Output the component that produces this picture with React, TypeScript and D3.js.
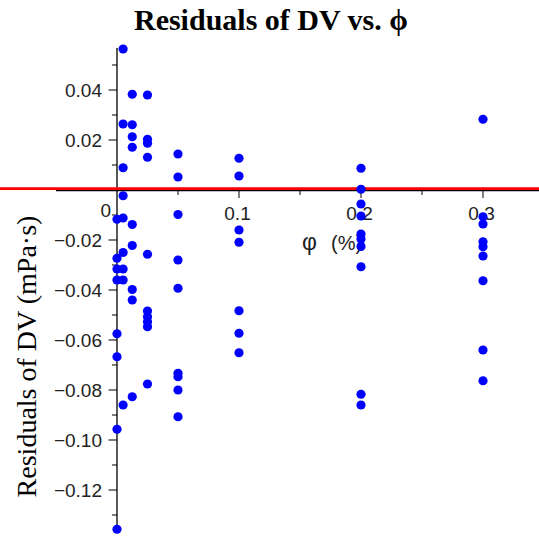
import React from "react";
import * as d3 from "d3";

// φ (%) groups and their residual values (mPa·s)
const phiGroups = [0, 0.005, 0.0125, 0.025, 0.05, 0.1, 0.2, 0.3];
const res000 = [-0.0117, -0.0273, -0.0316, -0.036, -0.0575, -0.0667, -0.0957, -0.1357];
const res005 = [0.0564, 0.0264, 0.0089, -0.0023, -0.0112, -0.025, -0.0316, -0.036, -0.086];
const res0125 = [0.0383, 0.0261, 0.0213, 0.0171, -0.0138, -0.0222, -0.0398, -0.044, -0.0827];
const res025 = [0.038, 0.0203, 0.0187, 0.0131, -0.0257, -0.0484, -0.0507, -0.0527, -0.0547, -0.0776];
const res05 = [0.0144, 0.0052, -0.0098, -0.028, -0.0393, -0.0733, -0.0747, -0.08, -0.0907];
const res10 = [0.0127, 0.0056, -0.016, -0.0209, -0.0483, -0.0573, -0.0651];
const res20 = [0.0087, 0.0003, -0.0056, -0.0104, -0.0176, -0.0196, -0.0226, -0.0307, -0.0817, -0.086];
const res30 = [0.0283, -0.0107, -0.0136, -0.0207, -0.0227, -0.0264, -0.0363, -0.064, -0.0763];
const residualGroups = [res000, res005, res0125, res025, res05, res10, res20, res30];

const xMajorTicks = [0.1, 0.2, 0.3];
const xMinorTicks = [0.05, 0.15, 0.25];
const yMajorTicks = [0.04, 0.02, -0.02, -0.04, -0.06, -0.08, -0.1, -0.12];
const yMinorTicks = [0.05, 0.03, 0.01, -0.01, -0.03, -0.05, -0.07, -0.09, -0.11, -0.13];

const titleText = "Residuals of DV vs. \u03d5";
const yLabelText = "Residuals of DV (mPa\u00b7s)";
const xLabelSymbol = "\u03c6";
const xLabelUnit = "(%)";

export default function App() {
  const W = 539;
  const H = 541;
  const x = d3.scaleLinear().domain([0, 0.3]).range([117, 483]);
  const y = d3.scaleLinear().domain([-0.12, 0.04]).range([490, 90]);
  const yTop = 0.0568;
  const yBottom = -0.1372;
  const fmt = (v: number) => d3.format(".2f")(v).replace("-", "\u2212");
  const sans = "'Liberation Sans', Arial, sans-serif";
  const serif = "'Liberation Serif', 'Times New Roman', serif";
  const x0 = x(0);
  const y0 = y(0);

  const points: { px: number; v: number }[] = [];
  phiGroups.forEach((p, i) => residualGroups[i].forEach((v) => points.push({ px: p, v })));

  return (
    <svg
      width={W}
      height={H}
      style={{ position: "absolute", left: 0, top: 0, background: "#fff" }}
    >
      <rect x={0} y={0} width={W} height={H} fill="#fff" />
      <text x={271} y={30} textAnchor="middle" fontFamily={serif} fontWeight="bold" fontSize={30} fill="#000">
        {titleText}
      </text>
      {/* y axis */}
      <line x1={x0} x2={x0} y1={y(yTop)} y2={y(yBottom)} stroke="#000" strokeWidth={1.3} />
      {yMajorTicks.map((t) => (
        <g key={"ym" + t}>
          <line x1={x0 - 8.5} x2={x0} y1={y(t)} y2={y(t)} stroke="#000" strokeWidth={1} />
          <text x={102} y={y(t) + 7} textAnchor="end" fontFamily={sans} fontSize={19} fill="#222">
            {fmt(t)}
          </text>
        </g>
      ))}
      {yMinorTicks.map((t) => (
        <line key={"yn" + t} x1={x0 - 5} x2={x0} y1={y(t)} y2={y(t)} stroke="#000" strokeWidth={1} />
      ))}
      {/* x axis */}
      <line x1={x(-0.05)} x2={W} y1={y0 + 0.6} y2={y0 + 0.6} stroke="#000" strokeWidth={1.3} />
      {xMajorTicks.map((t) => (
        <g key={"xm" + t}>
          <line x1={x(t)} x2={x(t)} y1={y0} y2={y0 + 8} stroke="#000" strokeWidth={1} />
          <text x={x(t) - 1.5} y={220} textAnchor="middle" fontFamily={sans} fontSize={19} fill="#222">
            {d3.format(".1f")(t)}
          </text>
        </g>
      ))}
      {xMinorTicks.map((t) => (
        <line key={"xn" + t} x1={x(t)} x2={x(t)} y1={y0} y2={y0 + 5} stroke="#000" strokeWidth={1} />
      ))}
      <text x={111} y={217} textAnchor="end" fontFamily={sans} fontSize={19} fill="#222">
        0
      </text>
      <text y={250} fontFamily={sans} fontSize={20} fill="#222">
        <tspan x={302} fontSize={23}>{xLabelSymbol}</tspan>
        <tspan x={331}>{xLabelUnit}</tspan>
      </text>
      <text
        transform={`translate(36, 356.5) rotate(-90)`}
        textAnchor="middle"
        fontFamily={serif}
        fontSize={28}
        fill="#000"
      >
        {yLabelText}
      </text>
      {/* zero reference line */}
      <line x1={0} x2={W} y1={y0 - 1.3} y2={y0 - 1.3} stroke="#ff0000" strokeWidth={2.8} />
      {points.map((d, i) => (
        <circle key={i} cx={x(d.px)} cy={y(d.v)} r={4.6} fill="#0000ff" />
      ))}
    </svg>
  );
}
